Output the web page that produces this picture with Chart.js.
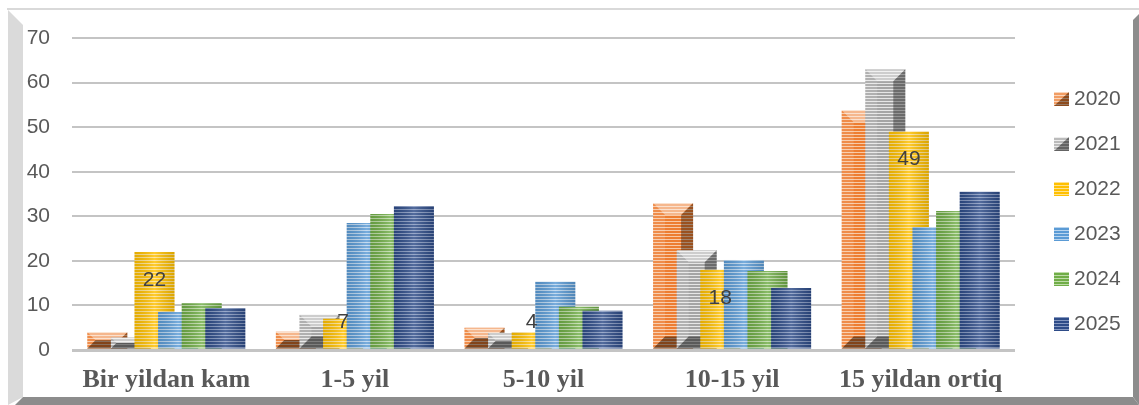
<!DOCTYPE html>
<html>
<head>
<meta charset="utf-8">
<script src="https://cdn.jsdelivr.net/npm/chart.js@4.4.1/dist/chart.umd.min.js"></script>
<style>
  html, body { margin: 0; padding: 0; background: #fff; }
  #wrap { width: 1139px; height: 405px; position: relative; }
</style>
</head>
<body>
<div id="wrap"><canvas id="myChart" width="1139" height="405"></canvas></div>
<script>
// data
var categories = ["Bir yildan kam", "1-5 yil", "5-10 yil", "10-15 yil", "15 yildan ortiq"];
var years = ["2020", "2021", "2022", "2023", "2024", "2025"];
var v2020 = [4, 4.1, 5, 33, 53.8];
var v2021 = [2.8, 7.9, 3.8, 22.4, 63];
var v2022 = [22, 7, 4, 18, 49];
var v2023 = [8.5, 28.5, 15.3, 20.2, 27.6];
var v2024 = [10.5, 30.5, 9.7, 17.7, 31.2];
var v2025 = [9.4, 32.3, 8.8, 13.9, 35.5];
var yTicks = [0, 10, 20, 30, 40, 50, 60, 70];

var baseColors  = ["#ED7D31", "#A5A5A5", "#FFC000", "#5B9BD5", "#70AD47", "#2E4C88"];
var lightColors = ["#F8C9A6", "#E6E6E6", "#FFE28F", "#B9D5EF", "#BEDCA8", "#8598C0"];
var bevelled = [true, true, false, false, false, false];

const ctx = document.getElementById("myChart");

// horizontal stripes like the picture's fill
function stripes(base, light) {
    var c = document.createElement("canvas");
    c.width = 4; c.height = 3;
    var g = c.getContext("2d");
    g.fillStyle = base; g.fillRect(0, 0, 4, 3);
    g.fillStyle = light; g.fillRect(0, 2, 4, 1);
    return g.createPattern(c, "repeat");
}

function poly(g, pts, fill) {
    g.beginPath();
    g.moveTo(pts[0][0], pts[0][1]);
    for (var k = 1; k < pts.length; k++) g.lineTo(pts[k][0], pts[k][1]);
    g.closePath();
    g.fillStyle = fill;
    g.fill();
}

// bevel / shading on top of each bar
function shade(g, bar, i) {
    var p = bar.getProps(["x", "y", "base", "width"], true);
    var x0 = p.x - p.width / 2, x1 = p.x + p.width / 2;
    var y0 = Math.min(p.y, p.base), y1 = Math.max(p.y, p.base);
    var h = y1 - y0;
    if (h <= 0) return;
    if (bevelled[i]) {
        var d = Math.min(p.width * 0.3, h / 2);
        poly(g, [[x0, y0], [x1, y0], [x1 - d, y0 + d], [x0 + d, y0 + d]], "rgba(255,255,255,0.45)");
        poly(g, [[x0, y0], [x0 + d, y0 + d], [x0 + d, y1 - d], [x0, y1]], "rgba(255,255,255,0.12)");
        poly(g, [[x1, y0], [x1 - d, y0 + d], [x1 - d, y1 - d], [x1, y1]], "rgba(0,0,0,0.35)");
        poly(g, [[x0, y1], [x1, y1], [x1 - d, y1 - d], [x0 + d, y1 - d]], "rgba(0,0,0,0.45)");
    } else {
        var gr = g.createLinearGradient(x0, 0, x1, 0);
        gr.addColorStop(0, "rgba(0,0,0,0.10)");
        gr.addColorStop(0.5, "rgba(255,255,255,0.18)");
        gr.addColorStop(1, "rgba(0,0,0,0.14)");
        g.fillStyle = gr;
        g.fillRect(x0, y0, x1 - x0, h);
    }
}

var allValues = [v2020, v2021, v2022, v2023, v2024, v2025];
var datasets = [];
for (var i = 0; i < years.length; i++) {
    datasets.push({
        label: years[i],
        data: allValues[i],
        backgroundColor: stripes(baseColors[i], lightColors[i]),
        borderWidth: 0,
        categoryPercentage: 0.751,
        barPercentage: 1.695
    });
}

// later years sit on top of earlier ones
const drawOrder = {
    id: "drawOrder",
    beforeDatasetsDraw(chart) {
        var g = chart.ctx;
        for (var i = 0; i < chart.data.datasets.length; i++) {
            var meta = chart.getDatasetMeta(i);
            meta.controller.draw();
            g.save();
            meta.data.forEach(function (bar) { shade(g, bar, i); });
            g.restore();
        }
        return false;
    }
};

// frame round the whole picture
const frame = {
    id: "frame",
    beforeDraw(chart) {
        var g = chart.ctx;
        g.save();
        g.fillStyle = "#fff";
        g.fillRect(0, 0, 1139, 405);
        g.fillStyle = "#D9D9D9";
        g.fillRect(7, 8, 1132, 2);
        poly(g, [[8, 10], [23, 25], [23, 397], [8, 405]], "#DADADA");
        poly(g, [[23, 397], [1133, 397], [1139, 405], [15, 405]], "#8C8C8C");
        poly(g, [[1133, 20], [1139, 14], [1139, 405], [1133, 397]], "#8C8C8C");
        g.restore();
    }
};

// 2022 value labels and the legend on the right
const extras = {
    id: "extras",
    afterDraw(chart) {
        var g = chart.ctx;
        var ys = chart.scales.y;
        g.save();
        g.font = "21px 'Liberation Sans'";
        g.fillStyle = "#404040";
        g.textAlign = "center";
        g.textBaseline = "middle";
        var meta = chart.getDatasetMeta(2);
        meta.data.forEach(function (bar, j) {
            var v = v2022[j];
            var pos = Math.max(v - 6.3, 6.2);
            g.fillText(String(v), bar.x, ys.getPixelForValue(pos));
        });
        // legend
        g.textAlign = "left";
        for (var i = 0; i < years.length; i++) {
            var cy = 99 + i * 45;
            var bx = 1054, by = cy - 7, bw = 15, bh = 14;
            g.fillStyle = stripes(baseColors[i], lightColors[i]);
            g.fillRect(bx, by, bw, bh);
            if (bevelled[i]) {
                poly(g, [[bx, by], [bx + bw, by], [bx, by + bh]], "rgba(255,255,255,0.25)");
                poly(g, [[bx + bw, by], [bx + bw, by + bh], [bx, by + bh]], "rgba(0,0,0,0.4)");
            }
            g.fillStyle = "#595959";
            g.fillText(years[i], 1074, cy);
        }
        g.restore();
    }
};

var myChart = new Chart(ctx, {
    type: "bar",
    data: { labels: categories, datasets: datasets },
    options: {
        responsive: false,
        animation: false,
        events: [],
        layout: { padding: { left: 0, top: 38, right: 124, bottom: 0 } },
        plugins: { legend: { display: false }, tooltip: { enabled: false } },
        scales: {
            x: {
                grid: { display: false, drawTicks: false },
                border: { display: false },
                ticks: {
                    color: "#595959",
                    padding: 15,
                    maxRotation: 0,
                    autoSkip: false,
                    font: { family: "'Liberation Serif'", size: 26, weight: "bold" }
                },
                afterFit: function (s) { s.height = 55; }
            },
            y: {
                min: 0,
                max: 70,
                afterBuildTicks: function (s) { s.ticks = yTicks.map(function (v) { return { value: v }; }); },
                ticks: {
                    color: "#595959",
                    padding: 22,
                    font: { family: "'Liberation Sans'", size: 21 }
                },
                grid: {
                    color: "#C4C4C4",
                    lineWidth: function (c) { return c.tick && c.tick.value === 0 ? 3 : 2; },
                    drawTicks: false
                },
                border: { display: false },
                afterFit: function (s) { s.width = 72; }
            }
        }
    },
    plugins: [frame, drawOrder, extras]
});
</script>
</body>
</html>
